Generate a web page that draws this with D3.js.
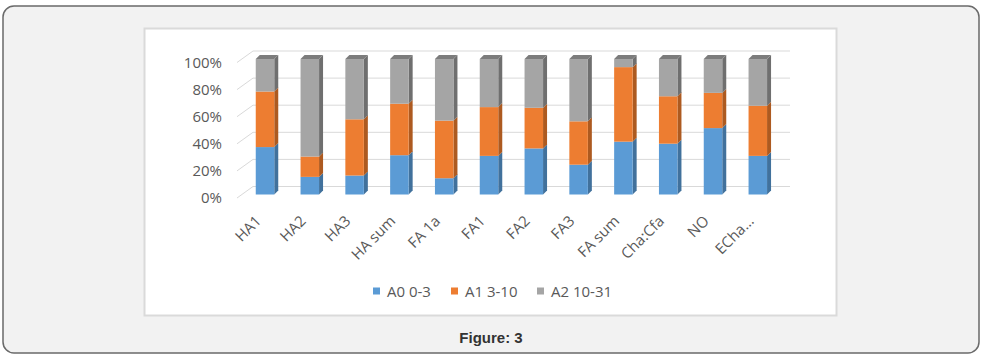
<!DOCTYPE html>
<html>
<head>
<meta charset="utf-8">
<script src="https://cdn.jsdelivr.net/npm/d3@7"></script>
<style>
  html, body { margin: 0; padding: 0; background: #ffffff; }
  svg { display: block; }
</style>
</head>
<body>
<svg id="chart" width="982" height="358"></svg>
<script>
const categories = ["HA1", "HA2", "HA3", "HA sum", "FA 1a", "FA1", "FA2", "FA3", "FA sum", "Cha:Cfa", "NO", "ECha..."];
const seriesNames = ["A0 0-3", "A1 3-10", "A2 10-31"];
const a0Values = [35, 13, 14, 29, 12, 28.5, 34, 22, 39, 37.5, 49, 28.5];
const a1Values = [41, 15, 41.5, 38, 42.5, 36, 30, 32, 55, 35, 26, 37];
const a2Values = [24, 72, 44.5, 33, 45.5, 35.5, 36, 46, 6, 27.5, 25, 34.5];
const yTicks = [0, 20, 40, 60, 80, 100];
const caption = "Figure: 3";

const frontColors = ["#5b9bd5", "#ed7d31", "#a5a5a5"];
const sideColors = ["#41719c", "#ad5a20", "#6f6f6f"];
const topColors = ["#7fb1de", "#f19b61", "#7c7c7c"];
const labelFont = "'Open Sans', 'Liberation Sans', sans-serif";

const svg = d3.select("#chart");

// outer frame
svg.append("rect").attr("x", 3).attr("y", 6).attr("width", 976).attr("height", 347)
  .attr("rx", 11).attr("ry", 11).attr("fill", "#f2f2f2").attr("stroke", "#6a6a6a").attr("stroke-width", 1.5);

// white chart panel
svg.append("rect").attr("x", 144.5).attr("y", 28.5).attr("width", 692).attr("height", 287)
  .attr("fill", "#ffffff").attr("stroke", "#dadada").attr("stroke-width", 2);

const rows = categories.map((c, i) => ({ cat: c, s0: a0Values[i], s1: a1Values[i], s2: a2Values[i] }));
const stack = d3.stack().keys(["s0", "s1", "s2"]);
const stacked = stack(rows);

const x = d3.scaleBand().domain(categories).range([242.6, 780.2]).paddingInner(0.587).paddingOuter(0.2935);
const y = d3.scaleLinear().domain([0, 100]).range([194.5, 59]);

const depth = 4;          // bar depth offset
const wallDx = 16;        // floor depth (x)
const backShift = -8, frontShift = 3.5;
const gridLeft = 237, gridRight = 790;

// gridlines (back wall + side diagonal)
const grid = svg.append("g");
yTicks.forEach(t => {
  const yb = y(t) + backShift, yf = y(t) + frontShift;
  grid.append("line").attr("x1", gridLeft + wallDx).attr("x2", gridRight).attr("y1", yb).attr("y2", yb)
    .attr("stroke", "#d9d9d9").attr("stroke-width", 1);
  grid.append("line").attr("x1", gridLeft).attr("x2", gridLeft + wallDx).attr("y1", yf).attr("y2", yb)
    .attr("stroke", "#d9d9d9").attr("stroke-width", 1);
  grid.append("text").attr("x", 222).attr("y", yf).attr("dy", "0.35em").attr("text-anchor", "end")
    .attr("font-family", labelFont).attr("font-size", 15)
    .attr("fill", "#595959").text(t + "%");
});

// bars
const bars = svg.append("g");
stacked.forEach((layer, si) => {
  layer.forEach((d, i) => {
    const cat = categories[i];
    const x0 = x(cat), w = x.bandwidth();
    const yt = y(d[1]), yb = y(d[0]);
    if (yb - yt <= 0) return;
    bars.append("path")
      .attr("d", `M${x0 + w},${yt} L${x0 + w + depth},${yt - depth} L${x0 + w + depth},${yb - depth} L${x0 + w},${yb} Z`)
      .attr("fill", sideColors[si]);
    bars.append("rect").attr("x", x0).attr("y", yt).attr("width", w).attr("height", yb - yt)
      .attr("fill", frontColors[si]);
    if (si === stacked.length - 1) {
      bars.append("path")
        .attr("d", `M${x0},${yt} L${x0 + depth},${yt - depth} L${x0 + w + depth},${yt - depth} L${x0 + w},${yt} Z`)
        .attr("fill", topColors[si]);
    }
  });
});

// category labels
const labels = svg.append("g");
categories.forEach(c => {
  const cx = x(c) + x.bandwidth() / 2 - 3;
  const cy = 222;
  labels.append("text").attr("transform", `translate(${cx},${cy}) rotate(-45)`)
    .attr("text-anchor", "end")
    .attr("font-family", labelFont).attr("font-size", 15)
    .attr("fill", "#595959").text(c);
});

// legend
const legendX = [373, 451, 537];
const legend = svg.append("g");
seriesNames.forEach((n, i) => {
  legend.append("rect").attr("x", legendX[i]).attr("y", 287.5).attr("width", 7).attr("height", 7)
    .attr("fill", frontColors[i]);
  legend.append("text").attr("x", legendX[i] + 14).attr("y", 296.5)
    .attr("font-family", labelFont).attr("font-size", 15)
    .attr("fill", "#595959").text(n);
});

// caption
svg.append("text").attr("x", 491).attr("y", 343).attr("text-anchor", "middle")
  .attr("font-family", "'Liberation Sans', Arial, sans-serif").attr("font-size", 15).attr("font-weight", "bold")
  .attr("fill", "#333333").text(caption);
</script>
</body>
</html>
